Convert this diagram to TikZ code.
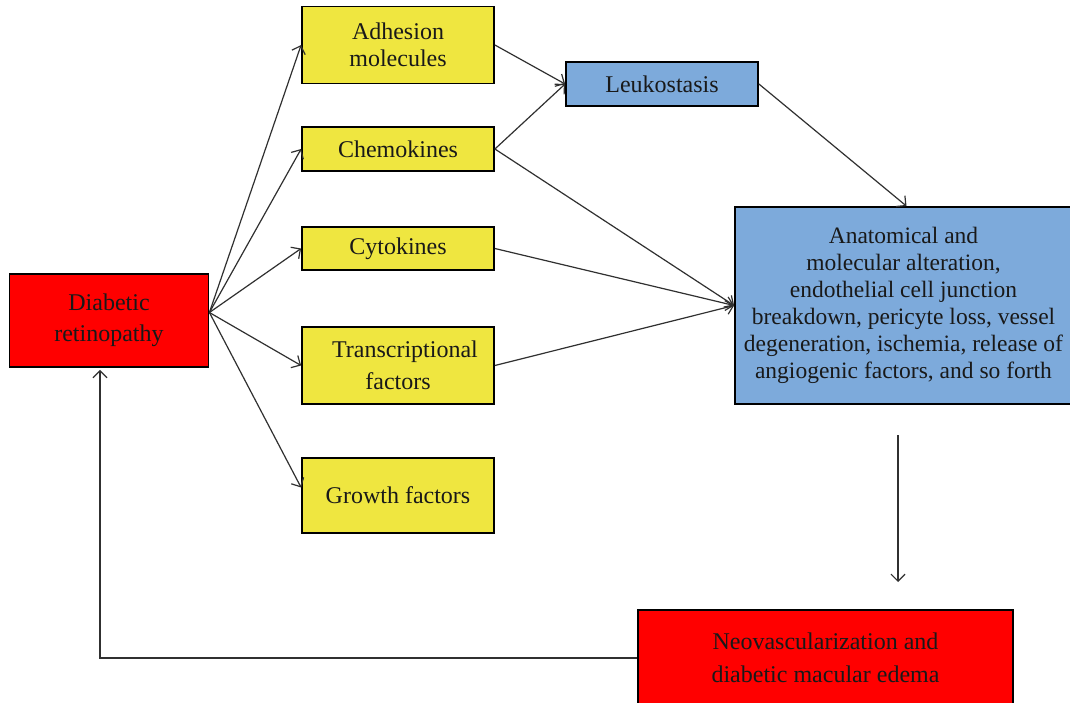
\documentclass[tikz,border=0pt]{standalone}
\usepackage{fontspec}
\setmainfont{Liberation Serif}
\usetikzlibrary{arrows.meta}
\definecolor{boxred}{HTML}{FF0000}
\definecolor{boxyellow}{HTML}{EFE640}
\definecolor{boxblue}{HTML}{7DAADB}
\definecolor{linegray}{HTML}{303030}
\tikzset{
  box/.style={draw=black, line width=1.8pt, align=center, inner sep=2pt,
    font=\fontsize{24}{27}\selectfont, text=black!90},
  redbox/.style={box, fill=boxred},
  yelbox/.style={box, fill=boxyellow, minimum width=192pt},
  bluebox/.style={box, fill=boxblue},
  conn/.style={draw=linegray, line width=1.2pt, -{Straight Barb[length=7pt,width=14pt]}},
}
\begin{document}
\begin{tikzpicture}[x=1pt,y=-1pt]
\useasboundingbox (0,0) rectangle (1070,702);
\clip (0,0) rectangle (1070,702);
\fill[white] (0,0) rectangle (1070,702);
% nodes
\node[redbox, minimum width=199pt, minimum height=93pt, font=\fontsize{24}{31}\selectfont] (dr) at (109,320.5) {Diabetic\\retinopathy};
\node[yelbox, minimum height=77pt] (adh) at (398,45) {Adhesion\\molecules};
\node[yelbox, minimum height=44pt] (che) at (398,149) {Chemokines};
\node[yelbox, minimum height=43pt] (cyt) at (398,248.5) {Cytokines};
\node[yelbox, minimum height=77pt, font=\fontsize{24}{32}\selectfont] (tra) at (398,365.5) {\hspace*{14pt}Transcriptional\\factors};
\node[yelbox, minimum height=75pt] (gro) at (398,495.5) {Growth factors};
\node[bluebox, minimum width=192pt, minimum height=44pt] (leu) at (662,84) {Leukostasis};
\node[bluebox, minimum width=337pt, minimum height=197pt, font=\fontsize{23.5}{27}\selectfont] (ana) at (903.5,305.5)
  {Anatomical and\\molecular alteration,\\endothelial cell junction\\breakdown, pericyte loss, vessel\\degeneration, ischemia, release of\\angiogenic factors, and so forth};
\node[redbox, minimum width=375pt, minimum height=96pt, font=\fontsize{24}{33}\selectfont] (neo) at (825.5,658) {Neovascularization and\\diabetic macular edema};
% free ends
\coordinate (v1) at (898,435);
\coordinate (v2) at (898,582);
\coordinate (fb) at (100,658);
\coordinate (drs) at ([yshift=8pt]dr.east);
% connectors
\draw[conn] (drs) -- (adh.west);
\draw[conn] (drs) -- (che.west);
\draw[conn] (drs) -- (cyt.west);
\draw[conn] (drs) -- (tra.west);
\draw[conn] (drs) -- ([yshift=8pt]gro.west);
\draw[conn] (adh.east) -- (leu.west);
\draw[conn] (che.east) -- (leu.west);
\draw[conn] (che.east) -- (ana.west);
\draw[conn] (cyt.east) -- (ana.west);
\draw[conn] (tra.east) -- (ana.west);
\draw[conn] (leu.east) -- ([xshift=3pt]ana.north);
\draw[conn] (v1) -- (v2);
\draw[conn] (neo.west) -- (fb) -- ([yshift=-2pt]fb |- dr.south);
\end{tikzpicture}
\end{document}
